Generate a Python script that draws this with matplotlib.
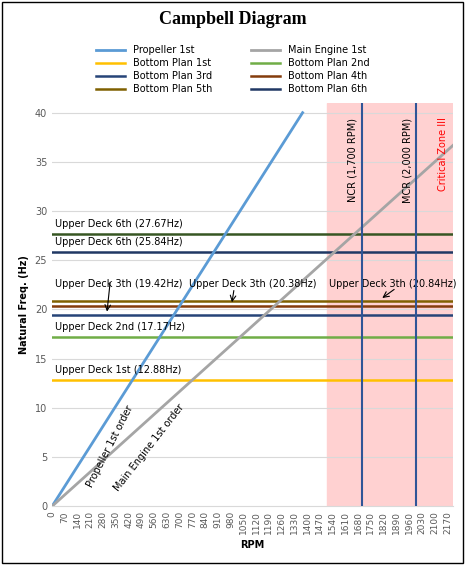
import matplotlib.pyplot as plt

# order lines (endpoints)
prop_rpm = [0, 1375]
prop_hz = [0, 40]
eng_rpm = [0, 2200]
eng_hz = [0, 36.67]

plan_names = ['Bottom Plan 1st', 'Bottom Plan 2nd', 'Bottom Plan 3rd',
              'Bottom Plan 4th', 'Bottom Plan 5th', 'Bottom Plan 6th']
plan_hz = [12.88, 17.17, 19.42, 20.38, 20.84, 25.84]
plan_colors = ['#ffc000', '#70ad47', '#264478', '#843c0c', '#7f6000', '#203864']
extra_hz = 27.67

labels = [(12.88, 'Upper Deck 1st (12.88Hz)'),
          (17.17, 'Upper Deck 2nd (17.17Hz)'),
          (25.84, 'Upper Deck 6th (25.84Hz)'),
          (27.67, 'Upper Deck 6th (27.67Hz)')]

ncr, mcr = 1700, 2000
zone = [1510, 2200]
xticks = list(range(0, 2171, 70))

fig = plt.figure(figsize=(4.65, 5.65), dpi=100)
ax = fig.add_axes([0.112, 0.104, 0.862, 0.714])

ax.axvspan(zone[0], zone[1], color='#ffd1d1', zorder=0)
for y in range(5, 41, 5):
    ax.axhline(y, color='#d9d9d9', lw=0.8, zorder=1)

ax.plot(prop_rpm, prop_hz, color='#5b9bd5', lw=2, label='Propeller 1st', zorder=3)
ax.plot(eng_rpm, eng_hz, color='#a5a5a5', lw=2, label='Main Engine 1st', zorder=3)
for name, hz, c in zip(plan_names, plan_hz, plan_colors):
    ax.axhline(hz, color=c, lw=1.8, label=name, zorder=2)
ax.axhline(extra_hz, color='#375623', lw=1.8, zorder=2)

ax.axvline(ncr, color='#2f5597', lw=1.5, zorder=4)
ax.axvline(mcr, color='#2f5597', lw=1.5, zorder=4)

fs = 7
for hz, t in labels:
    ax.text(15, hz + 0.5, t, fontsize=fs, va='bottom')
ax.text(15, 22.3, 'Upper Deck 3th (19.42Hz)', fontsize=fs)
ax.text(750, 22.3, 'Upper Deck 3th (20.38Hz)', fontsize=fs)
ax.text(1520, 22.3, 'Upper Deck 3th (20.84Hz)', fontsize=fs)
ax.annotate('', xy=(300, 19.5), xytext=(320, 23.0),
            arrowprops=dict(arrowstyle='->', lw=0.8))
ax.annotate('', xy=(985, 20.45), xytext=(1000, 22.2),
            arrowprops=dict(arrowstyle='->', lw=0.8))
ax.annotate('', xy=(1800, 21.0), xytext=(1890, 22.2),
            arrowprops=dict(arrowstyle='->', lw=0.8))

ax.text(1650, 39.5, 'NCR (1,700 RPM)', rotation=90, fontsize=fs, va='top', ha='center')
ax.text(1950, 39.5, 'MCR (2,000 RPM)', rotation=90, fontsize=fs, va='top', ha='center')
ax.text(2145, 39.5, 'Critical Zone III', rotation=90, fontsize=fs, va='top',
        ha='center', color='red')
ax.text(180, 2.0, 'Propeller 1st order', rotation=63, fontsize=fs)
ax.text(330, 1.5, 'Main Engine 1st order', rotation=52, fontsize=fs)

ax.set_xlim(0, 2200)
ax.set_ylim(0, 41)
ax.set_xticks(xticks)
ax.set_xticklabels([str(v) for v in xticks], rotation=90, fontsize=6.5, color='#595959')
ax.set_yticks(range(0, 41, 5))
ax.tick_params(axis='y', labelsize=7, colors='#595959', length=0)
ax.tick_params(axis='x', length=0)
for s in ['top', 'right', 'left']:
    ax.spines[s].set_visible(False)
ax.spines['bottom'].set_color('#d9d9d9')
ax.set_xlabel('RPM', fontsize=7, fontweight='bold')
ax.set_ylabel('Natural Freq. (Hz)', fontsize=7, fontweight='bold')

handles, names = ax.get_legend_handles_labels()
order = [0, 2, 4, 6, 1, 3, 5, 7]
fig.legend([handles[i] for i in order], [names[i] for i in order], ncol=2,
           loc='upper center', bbox_to_anchor=(0.5, 0.935), frameon=False,
           fontsize=7, handlelength=3, columnspacing=4, labelspacing=0.3)
fig.text(0.5, 0.965, 'Campbell Diagram', ha='center', va='center', fontsize=13,
         fontweight='bold', family='Liberation Serif')
fig.patches.append(plt.Rectangle((0.004, 0.004), 0.992, 0.992, transform=fig.transFigure,
                                 fill=False, ec='black', lw=1))
fig.savefig('out.png')
